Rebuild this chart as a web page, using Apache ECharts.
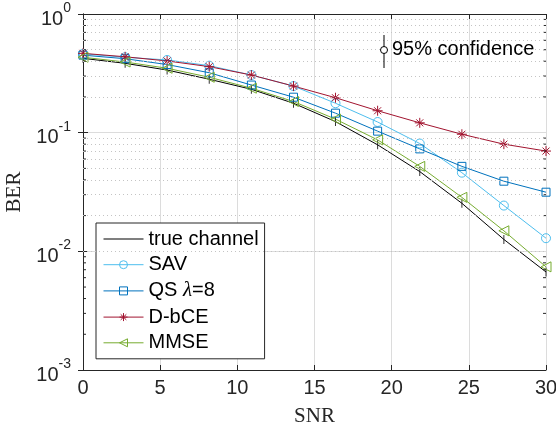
<!DOCTYPE html>
<html>
<head>
<meta charset="utf-8">
<script src="https://cdn.jsdelivr.net/npm/echarts@6/dist/echarts.min.js"></script>
<style>
  html, body { margin: 0; padding: 0; background: #fff; }
  #main { width: 556px; height: 425px; }
</style>
</head>
<body>
<div id="main"></div>
<script>
const chart = echarts.init(document.getElementById('main'));

// SNR sample points
const snr = [0, 2.73, 5.45, 8.18, 10.91, 13.64, 16.36, 19.09, 21.82, 24.55, 27.27, 30];

// BER per method
const trueChannel = [0.423, 0.384, 0.337, 0.282, 0.232, 0.177, 0.124, 0.079, 0.047, 0.0254, 0.0126, 0.0067];
const sav = [0.462, 0.432, 0.41, 0.367, 0.306, 0.247, 0.177, 0.123, 0.081, 0.046, 0.0243, 0.0129];
const qs = [0.45, 0.42, 0.375, 0.32, 0.252, 0.199, 0.146, 0.103, 0.073, 0.052, 0.039, 0.0315];
const dbce = [0.466, 0.436, 0.402, 0.36, 0.306, 0.247, 0.197, 0.153, 0.121, 0.097, 0.080, 0.070];
const mmse = [0.432, 0.394, 0.349, 0.293, 0.237, 0.183, 0.130, 0.087, 0.052, 0.0285, 0.0149, 0.0074];

const yDecades = [-3, -2, -1, 0];

const axisColor = '#262626';
const fontSans = 'Liberation Sans, Helvetica, Arial, sans-serif';
const fontSerif = 'Liberation Serif, Times New Roman, serif';

// minor values 2..9 x 10^k, used for dotted grid and small ticks
const minorValues = [];
yDecades.slice(0, -1).forEach(k => {
  for (let m = 2; m <= 9; m++) minorValues.push(m * Math.pow(10, k));
});

function pairs(ys) {
  return snr.map((x, i) => [x, ys[i]]);
}

const star = 'path://M0,-5L0,5M-5,0L5,0M-3.5,-3.5L3.5,3.5M-3.5,3.5L3.5,-3.5';
const triLeft = 'path://M0,5L8,0L8,10Z';

function lineSeries(name, data, color, symbol, size) {
  return {
    name: name,
    type: 'line',
    data: pairs(data),
    symbol: symbol,
    symbolSize: size,
    showSymbol: true,
    lineStyle: { color: color, width: 1 },
    itemStyle: { color: 'rgba(255,255,255,0)', borderColor: color, borderWidth: 1 },
    emphasis: { disabled: true },
    z: 3
  };
}

const yLabel = {
  fontFamily: fontSans,
  color: axisColor,
  margin: 12,
  formatter: v => '{b|10}{s|' + Math.round(Math.log10(v)) + '}',
  rich: {
    b: { fontSize: 20, fontFamily: fontSans, color: axisColor, lineHeight: 30, verticalAlign: 'bottom' },
    s: { fontSize: 14, fontFamily: fontSans, color: axisColor, lineHeight: 30, verticalAlign: 'top', padding: [2, 0, 0, 0] }
  }
};

chart.setOption({
  animation: false,
  backgroundColor: '#fff',
  grid: { left: 83, right: 10, top: 14, bottom: 55, show: false, containLabel: false, outerBoundsMode: 'none' },
  legend: {
    left: 96,
    top: 223,
    orient: 'vertical',
    backgroundColor: '#fff',
    borderColor: axisColor,
    borderWidth: 1,
    padding: [6, 6, 6, 7],
    itemWidth: 40,
    itemHeight: 10,
    itemGap: 5.7,
    selectedMode: false,
    lineStyle: { width: 1 },
    itemStyle: { borderWidth: 1 },
    formatter: name => name.replace('\u03bb', '{i|\u03bb}'),
    textStyle: {
      fontFamily: fontSans, fontSize: 20, color: '#000', lineHeight: 20,
      rich: { i: { fontFamily: fontSerif, fontStyle: 'italic', fontSize: 21, color: '#000', lineHeight: 20 } }
    },
    data: [
      { name: 'true channel', icon: 'path://M0,0L40,0L40,1L0,1Z', itemStyle: { color: '#000' } },
      'SAV', 'QS \u03bb=8', 'D-bCE', 'MMSE'
    ]
  },
  xAxis: [
    {
      type: 'value',
      min: 0, max: 30, interval: 5,
      name: 'SNR',
      nameLocation: 'middle',
      nameGap: 36,
      nameTextStyle: { fontFamily: fontSerif, fontSize: 21, color: axisColor },
      axisLine: { show: true, lineStyle: { color: axisColor, width: 1 } },
      axisTick: { show: true, inside: true, length: 5, lineStyle: { color: axisColor } },
      axisLabel: { fontFamily: fontSans, fontSize: 20, color: axisColor, margin: 8 },
      splitLine: { show: true, lineStyle: { color: '#dcdcdc', width: 1 } }
    },
    {
      type: 'value',
      position: 'top',
      min: 0, max: 30, interval: 5,
      axisLine: { show: true, lineStyle: { color: axisColor, width: 1 } },
      axisTick: { show: true, inside: true, length: 5, lineStyle: { color: axisColor } },
      axisLabel: { show: false },
      splitLine: { show: false }
    }
  ],
  yAxis: [
    {
      type: 'log',
      logBase: 10,
      min: 0.001, max: 1,
      name: 'BER',
      nameLocation: 'middle',
      nameGap: 53,
      nameTextStyle: { fontFamily: fontSerif, fontSize: 21, color: axisColor },
      axisLine: { show: true, lineStyle: { color: axisColor, width: 1 } },
      axisTick: { show: true, inside: true, length: 5, lineStyle: { color: axisColor } },
      axisLabel: yLabel,
      splitLine: { show: true, lineStyle: { color: '#dcdcdc', width: 1 } }
    },
    {
      type: 'log',
      logBase: 10,
      position: 'right',
      min: 0.001, max: 1,
      axisLine: { show: true, lineStyle: { color: axisColor, width: 1 } },
      axisTick: { show: true, inside: true, length: 5, lineStyle: { color: axisColor } },
      axisLabel: { show: false },
      splitLine: { show: false }
    }
  ],
  graphic: [
    { type: 'line', shape: { x1: 384, y1: 35, x2: 384, y2: 68 }, style: { stroke: '#000', lineWidth: 1 }, z: 10 },
    { type: 'circle', shape: { cx: 384, cy: 50, r: 3.5 }, style: { fill: '#fff', stroke: '#000', lineWidth: 1 }, z: 11 },
    { type: 'text', left: 392, top: 39, style: { text: '95% confidence', fontFamily: fontSans, fontSize: 20, fill: '#000' }, z: 11 }
  ],
  series: [
    {
      name: 'minor grid',
      type: 'line',
      data: [],
      silent: true,
      z: 1,
      markLine: {
        silent: true,
        symbol: 'none',
        label: { show: false },
        lineStyle: { color: '#c4c4c4', type: [1, 3], width: 1 },
        emphasis: { disabled: true },
        data: minorValues.map(v => ({ yAxis: v }))
      }
    },
    {
      name: 'minor ticks',
      type: 'custom',
      silent: true,
      z: 4,
      data: minorValues.map(v => [v]),
      renderItem: function (params, api) {
        const v = api.value(0);
        const l = api.coord([0, v]);
        const r = api.coord([30, v]);
        const style = { stroke: axisColor, lineWidth: 1 };
        return {
          type: 'group',
          children: [
            { type: 'line', shape: { x1: l[0], y1: l[1], x2: l[0] + 3, y2: l[1] }, style: style },
            { type: 'line', shape: { x1: r[0], y1: r[1], x2: r[0] - 3, y2: r[1] }, style: style }
          ]
        };
      }
    },
    {
      name: 'true channel',
      type: 'line',
      data: pairs(trueChannel),
      symbol: 'none',
      lineStyle: { color: '#000', width: 1 },
      itemStyle: { color: '#000' },
      emphasis: { disabled: true },
      z: 3
    },
    {
      name: 'error bars',
      type: 'scatter',
      data: pairs(trueChannel),
      symbol: 'rect',
      symbolSize: [1, 9],
      itemStyle: { color: '#000' },
      emphasis: { disabled: true },
      z: 3
    },
    lineSeries('SAV', sav, '#4DBEEE', 'circle', 9),
    lineSeries('QS \u03bb=8', qs, '#0072BD', 'rect', 8),
    lineSeries('D-bCE', dbce, '#A2142F', star, 10),
    lineSeries('MMSE', mmse, '#77AC30', triLeft, 10)
  ]
});
</script>
</body>
</html>
